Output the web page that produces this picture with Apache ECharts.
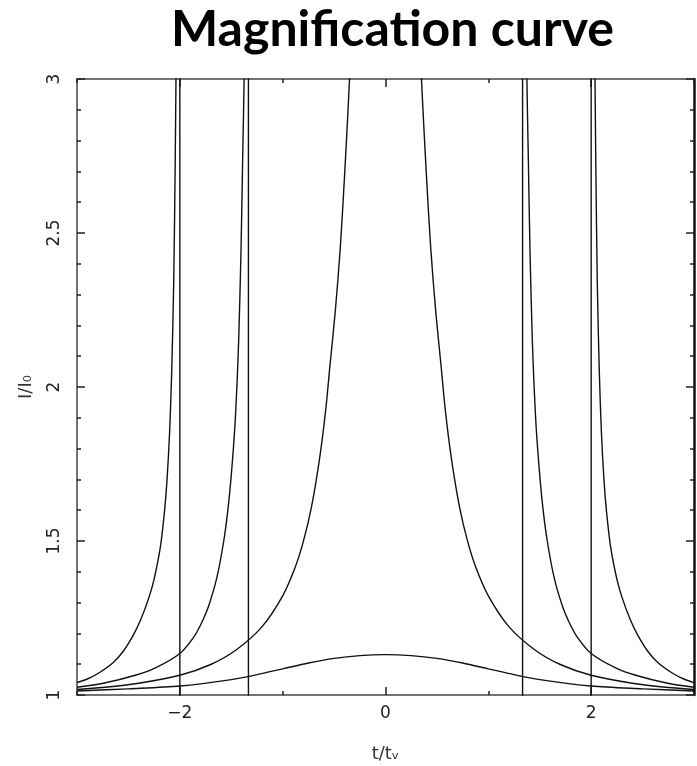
<!DOCTYPE html>
<html>
<head>
<meta charset="utf-8">
<title>Magnification curve</title>
<script src="https://cdn.jsdelivr.net/npm/echarts@6/dist/echarts.min.js"></script>
<style>html,body{margin:0;padding:0;background:#fff;}</style>
</head>
<body>
<div id="main" style="width:697px;height:766px;"></div>
<script type="text/javascript">
// values: [t/tv, I/I0]
var bellCurve = [[-3, 1.013], [-2.5, 1.02], [-2, 1.029], [-1.5, 1.05], [-1.25, 1.066], [-1, 1.085], [-0.75, 1.104],
    [-0.5, 1.119], [-0.25, 1.128], [0, 1.131], [0.25, 1.128], [0.5, 1.119], [0.75, 1.104], [1, 1.085], [1.25, 1.066],
    [1.5, 1.05], [2, 1.029], [2.5, 1.02], [3, 1.013]];

// central curve, off the top between about -0.35 and 0.35
var centralLeft = [[-3, 1.018], [-2.7, 1.026], [-2.4, 1.038], [-2, 1.064], [-1.7, 1.099], [-1.45, 1.147], [-1.2, 1.222],
    [-1, 1.322], [-0.88, 1.413], [-0.8, 1.497], [-0.72, 1.61], [-0.64, 1.77], [-0.58, 1.93], [-0.54, 2.07],
    [-0.49, 2.24], [-0.44, 2.45], [-0.4, 2.675], [-0.37, 2.863], [-0.35, 3.0], [-0.33, 3.16], [-0.31, 3.35]];
var centralRight = [[0.31, 3.35], [0.33, 3.16], [0.35, 3.0], [0.37, 2.863], [0.4, 2.675], [0.44, 2.45], [0.49, 2.24],
    [0.54, 2.07], [0.58, 1.93], [0.64, 1.77], [0.72, 1.61], [0.8, 1.497], [0.88, 1.413], [1, 1.322], [1.2, 1.222],
    [1.45, 1.147], [1.7, 1.099], [2, 1.064], [2.4, 1.038], [2.7, 1.026], [3, 1.018]];

// curve that blows up near t = -4/3 and +4/3
var innerLeft = [[-3, 1.025], [-2.733, 1.039], [-2.433, 1.064], [-2.233, 1.089], [-2, 1.135], [-1.863, 1.189],
    [-1.783, 1.238], [-1.72, 1.289], [-1.64, 1.381], [-1.573, 1.5], [-1.533, 1.6], [-1.5, 1.713], [-1.466, 1.865],
    [-1.443, 2.018], [-1.427, 2.16], [-1.405, 2.444], [-1.388, 2.76], [-1.375, 3.0], [-1.363, 3.5]];
var innerRight = [[1.363, 3.5], [1.375, 3.0], [1.388, 2.76], [1.405, 2.444], [1.427, 2.16], [1.443, 2.018],
    [1.466, 1.865], [1.5, 1.713], [1.533, 1.6], [1.573, 1.5], [1.64, 1.381], [1.72, 1.289], [1.783, 1.238],
    [1.863, 1.189], [2, 1.135], [2.233, 1.089], [2.433, 1.064], [2.733, 1.039], [3, 1.025]];

// curve that blows up near t = -2 and +2
var outerLeft = [[-3, 1.04], [-2.9, 1.052], [-2.8, 1.069], [-2.65, 1.105], [-2.55, 1.142], [-2.45, 1.196],
    [-2.38, 1.245], [-2.3, 1.317], [-2.25, 1.376], [-2.19, 1.479], [-2.15, 1.593], [-2.125, 1.696], [-2.1, 1.85],
    [-2.08, 2.04], [-2.06, 2.33], [-2.045, 2.73], [-2.035, 3.09], [-2.025, 3.4]];
var outerRight = [[2.025, 3.4], [2.035, 3.09], [2.045, 2.73], [2.06, 2.33], [2.08, 2.04], [2.1, 1.85], [2.125, 1.696],
    [2.15, 1.593], [2.19, 1.479], [2.25, 1.376], [2.3, 1.317], [2.38, 1.245], [2.45, 1.196], [2.55, 1.142],
    [2.65, 1.105], [2.8, 1.069], [2.9, 1.052], [3, 1.04]];

// the vertical drops at the jumps
var jumpTimes = [-2, -1.333, 1.333, 2];

var xMajorTicks = [-2, 0, 2];

var myChart = echarts.init(document.getElementById('main'));

var labelFont = '"DejaVu Sans", sans-serif';
var axisColor = '#444';

function boxXAxis(pos, gridIndex, major) {
    return {
        type: 'value', gridIndex: gridIndex, position: pos,
        min: -3, max: 3, interval: 1,
        axisLine: { show: !major, onZero: false, lineStyle: { color: axisColor, width: 1.5 } },
        axisTick: major ? { show: true, inside: true, length: 8, customValues: xMajorTicks, lineStyle: { color: '#222', width: 1.5 } }
                        : { show: true, inside: true, length: 4, lineStyle: { color: '#222', width: 1.5 } },
        axisLabel: { show: false },
        splitLine: { show: false }
    };
}

var bottomAxis = boxXAxis('bottom', 0, false);
bottomAxis.axisLabel = {
    show: true, customValues: xMajorTicks, margin: 10, fontSize: 17, color: '#222', fontFamily: labelFont,
    formatter: function (v) { return v < 0 ? '\u2212' + Math.abs(v) : String(v); }
};
bottomAxis.name = 't/t\u1d65';
bottomAxis.nameLocation = 'middle';
bottomAxis.nameGap = 50;
bottomAxis.nameTextStyle = { fontSize: 18, color: '#333', fontFamily: labelFont };

function boxYAxis(pos, labels) {
    return {
        type: 'value', position: pos,
        min: 1, max: 3, interval: 0.5,
        axisLine: { show: true, onZero: false, lineStyle: { color: pos === 'right' ? '#111' : axisColor, width: pos === 'right' ? 2.5 : 1.5 } },
        axisTick: { show: true, inside: true, length: 8, lineStyle: { color: '#222', width: 1.5 } },
        minorTick: { show: true, splitNumber: 5, length: 4, lineStyle: { color: '#222', width: 1.5 } },
        axisLabel: labels ? { show: true, rotate: 90, margin: 14, fontSize: 17, color: '#222', fontFamily: labelFont } : { show: false },
        splitLine: { show: false },
        minorSplitLine: { show: false }
    };
}

var leftAxis = boxYAxis('left', true);
leftAxis.name = 'I/I\u2080';
leftAxis.nameLocation = 'middle';
leftAxis.nameGap = 42;
leftAxis.nameTextStyle = { fontSize: 18, color: '#333', fontFamily: labelFont };

function curve(data) {
    return {
        type: 'line', data: data, xAxisIndex: 0, yAxisIndex: 0,
        showSymbol: false, symbol: 'none', clip: true,
        smooth: 0.3,
        lineStyle: { color: '#111', width: 1.4 },
        silent: true
    };
}

var series = [
    curve(bellCurve),
    curve(centralLeft),
    curve(centralRight),
    curve(innerLeft),
    curve(innerRight),
    curve(outerLeft),
    curve(outerRight)
];
jumpTimes.forEach(function (t) {
    series.push({
        type: 'line', data: [[t, 0.9], [t, 3.4]], xAxisIndex: 0, yAxisIndex: 0,
        showSymbol: false, symbol: 'none', clip: true,
        lineStyle: { color: '#111', width: 1.4 },
        silent: true
    });
});

var option = {
    animation: false,
    backgroundColor: '#fff',
    title: {
        text: 'Magnification curve',
        left: 166, top: 0,
        textStyle: { fontFamily: 'Lato, "Open Sans", sans-serif', fontWeight: 'bold', fontSize: 50, color: '#000' }
    },
    grid: [
        { left: 77, right: 3, top: 79, bottom: 71, containLabel: false, outerBoundsMode: 'none' },
        { left: 77, right: 3, top: 79, bottom: 71, containLabel: false, outerBoundsMode: 'none' }
    ],
    xAxis: [
        bottomAxis,
        boxXAxis('top', 0, false),
        boxXAxis('bottom', 1, true),
        boxXAxis('top', 1, true)
    ],
    yAxis: [
        leftAxis,
        boxYAxis('right', false),
        { type: 'value', gridIndex: 1, min: 1, max: 3, show: false }
    ],
    series: series
};

myChart.setOption(option);
</script>
</body>
</html>
